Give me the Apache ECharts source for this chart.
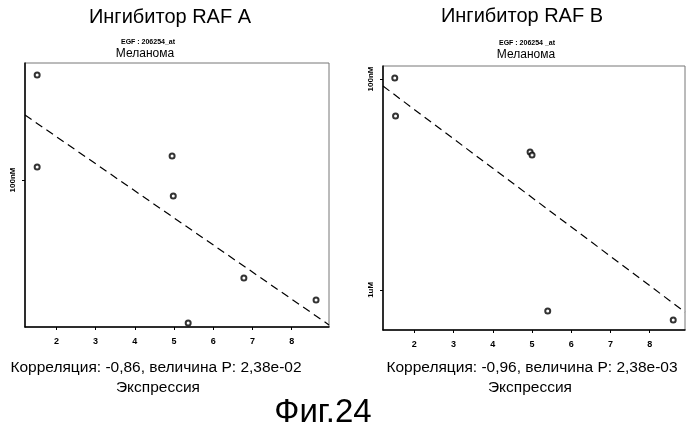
<!DOCTYPE html>
<html><head><meta charset="utf-8">
<script src="https://cdn.jsdelivr.net/npm/echarts@6/dist/echarts.min.js"></script>
<style>html,body{margin:0;background:#fff}#c{width:699px;height:437px}</style>
</head><body><div id="c"></div>
<script>
// y is relative position in plot (0 bottom .. 1 top), log-dose scale
var pointsA = [[1.51, 0.955], [1.51, 0.606], [4.95, 0.648], [4.98, 0.496], [5.36, 0.015], [6.78, 0.186], [8.62, 0.102]];
var lineA = [[1.2, 0.803], [8.95, 0.008]];
var pointsB = [[1.5, 0.955], [1.52, 0.811], [4.95, 0.674], [5.0, 0.663], [5.4, 0.072], [8.6, 0.038]];
var lineB = [[1.2, 0.924], [8.9, 0.068]];
var xTicks = [2, 3, 4, 5, 6, 7, 8];
var yLabelsA = {"0.557": "100nM"};
var yLabelsB = {"0.951": "100nM", "0.152": "1uM"};

function yAxis(gi, labels) {
    var vals = Object.keys(labels).map(Number);
    return {
        gridIndex: gi, type: "value", min: 0, max: 1,
        splitLine: { show: false },
        axisLine: { show: true, lineStyle: { color: "#000", width: 1.5 } },
        axisTick: { show: true, customValues: vals, length: 3, lineStyle: { color: "#000" } },
        axisLabel: {
            customValues: vals, rotate: 90, fontSize: 8, fontWeight: "bold", color: "#000",
            formatter: function (v) { return labels[String(Math.round(v * 1000) / 1000)] || ""; }
        }
    };
}
function xAxis(gi, max) {
    return {
        gridIndex: gi, type: "value", min: 1.2, max: max,
        splitLine: { show: false },
        axisLine: { show: true, onZero: false, lineStyle: { color: "#000", width: 1.5 } },
        axisTick: { customValues: xTicks, length: 3, lineStyle: { color: "#000" } },
        axisLabel: { customValues: xTicks, fontSize: 9, fontWeight: "bold", color: "#000", margin: 10 }
    };
}
function txt(s, x, y, font) {
    return { type: "text", x: x, y: y, style: { text: s, font: font + " 'Liberation Sans'", fill: "#000", align: "center" } };
}

var dots = { color: "#000", borderColor: "#000", borderWidth: 1 };
var chart = echarts.init(document.getElementById("c"));
chart.setOption({
    animation: false,
    grid: [
        { left: 25, top: 63, width: 304, height: 264, show: true, borderColor: "#777", borderWidth: 1 },
        { left: 383, top: 66, width: 302, height: 264, show: true, borderColor: "#777", borderWidth: 1 }
    ],
    xAxis: [xAxis(0, 8.95), xAxis(1, 8.9)],
    yAxis: [yAxis(0, yLabelsA), yAxis(1, yLabelsB)],
    series: [
        { type: "scatter", xAxisIndex: 0, yAxisIndex: 0, data: pointsA, symbol: "emptyCircle", symbolSize: 5, itemStyle: dots },
        { type: "line", xAxisIndex: 0, yAxisIndex: 0, data: lineA, symbol: "none", lineStyle: { color: "#000", width: 1.2, type: [8, 5] } },
        { type: "scatter", xAxisIndex: 1, yAxisIndex: 1, data: pointsB, symbol: "emptyCircle", symbolSize: 5, itemStyle: dots },
        { type: "line", xAxisIndex: 1, yAxisIndex: 1, data: lineB, symbol: "none", lineStyle: { color: "#000", width: 1.2, type: [8, 5] } }
    ],
    graphic: [
        txt("Ингибитор RAF A", 170, 7, "20px"),
        txt("EGF : 206254_at", 148, 39, "bold 7px"),
        txt("Меланома", 145, 48, "12px"),
        txt("Ингибитор RAF B", 522, 6, "20px"),
        txt("EGF : 206254 _at", 527, 40, "bold 7px"),
        txt("Меланома", 526, 49, "12px"),
        txt("Корреляция: -0,86, величина P: 2,38e-02", 156, 360, "15.5px"),
        txt("Экспрессия", 158, 380, "15.5px"),
        txt("Корреляция: -0,96, величина P: 2,38e-03", 532, 360, "15.5px"),
        txt("Экспрессия", 530, 380, "15.5px"),
        txt("Фиг.24", 323, 396, "33px")
    ]
});
</script>
</body></html>
